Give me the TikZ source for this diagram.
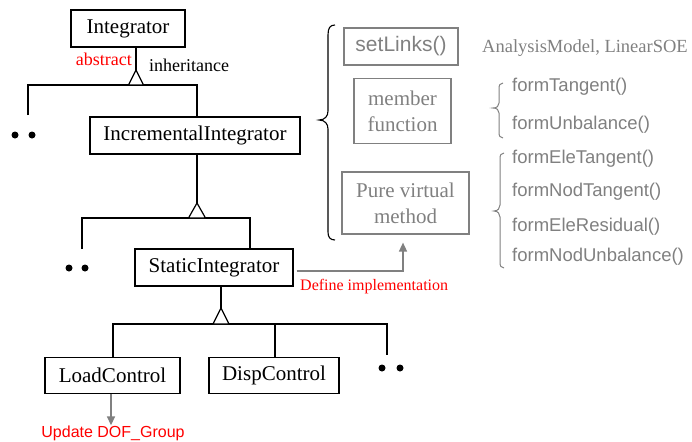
\documentclass[tikz,border=0pt]{standalone}
\usepackage{fontspec}
\setmainfont{Liberation Serif}
\setsansfont{Liberation Sans}
\usetikzlibrary{arrows.meta}
\definecolor{txtgray}{RGB}{128,128,128}
\definecolor{umlred}{RGB}{255,0,0}

\begin{document}
\begin{tikzpicture}[x=1pt,y=-1pt,
  classbox/.style={draw=black, line width=1.2pt, inner sep=0pt,
    font=\fontsize{21}{24}\selectfont},
  notebox/.style={draw=txtgray, line width=1.2pt, inner sep=0pt, text=txtgray,
    align=center, font=\fontsize{21}{24}\selectfont},
  link/.style={line width=1.2pt},
  gen/.style={line width=1.2pt, fill=white},
  grayarrow/.style={draw=txtgray, line width=1.5pt,
    -{Triangle[length=9pt,width=8pt]}},
  redlbl/.style={text=umlred, inner sep=0pt},
  graylbl/.style={text=txtgray, inner sep=0pt, anchor=west},
  dot/.style={circle, fill=black, inner sep=0pt, minimum size=7pt},
  bracegray/.style={draw=txtgray, line width=1pt},
]
\useasboundingbox (0,0) rectangle (692,441);

% class hierarchy
\node[classbox, minimum width=114pt, minimum height=37pt] (integ) at (128,28.5) {Integrator};
\node[classbox, minimum width=210pt, minimum height=37pt] (incr) at (195,135.5) {IncrementalIntegrator};
\node[classbox, minimum width=158pt, minimum height=37pt] (static) at (214,267.5) {StaticIntegrator};
\node[classbox, minimum width=135pt, minimum height=36pt] (load) at (112.5,375.5) {LoadControl};
\node[classbox, minimum width=130pt, minimum height=36pt] (disp) at (274,375.5) {DispControl};

% generalization: Integrator <- IncrementalIntegrator
\coordinate (t1) at (136,70);
\coordinate (j1) at (197,85);
\coordinate (b1L) at (28,115);
\draw[link] (integ.south -| t1) -- (t1);
\draw[link] (b1L) |- (j1) -- (j1 |- incr.north);
\draw[gen] (t1) -- ++(-7.5,15) -- ++(15,0) -- cycle;

% generalization: IncrementalIntegrator <- StaticIntegrator
\coordinate (t2) at (197,203);
\coordinate (j2) at (250,218);
\coordinate (b2L) at (82,249);
\draw[link] (incr.south -| t2) -- (t2);
\draw[link] (b2L) |- (j2) -- (j2 |- static.north);
\draw[gen] (t2) -- ++(-8.5,15) -- ++(17,0) -- cycle;

% generalization: StaticIntegrator <- LoadControl, DispControl
\coordinate (t3) at (221,308);
\coordinate (j3a) at (113,324);
\coordinate (j3b) at (275,324);
\coordinate (b3R) at (387,355);
\draw[link] (static.south -| t3) -- (t3);
\draw[link] (j3a |- load.north) -- (j3a) -| (b3R);
\draw[link] (j3b) -- (j3b |- disp.north);
\draw[gen] (t3) -- ++(-8,16) -- ++(16,0) -- cycle;

% further subclasses
\node[dot] (d1a) at (15,135) {};
\node[dot] (d1b) at (32,135) {};
\node[dot] (d2a) at (69,268) {};
\node[dot] (d2b) at (85,268) {};
\node[dot] (d3a) at (382,368) {};
\node[dot] (d3b) at (400,368) {};

% labels on the hierarchy
\node[redlbl, anchor=east, font=\fontsize{18}{20}\selectfont] (abs) at (132,59) {abstract};
\node[inner sep=0pt, anchor=west, font=\fontsize{18}{20}\selectfont] (inh) at (149,65) {inheritance};

% member summary
\node[notebox, font=\sffamily\fontsize{21}{24}\selectfont, minimum width=114pt, minimum height=37pt] (links) at (401,46.5) {setLinks()};
\node[notebox, minimum width=97pt, minimum height=65pt] (member) at (402.5,111) {member\\[2pt]function};
\node[notebox, minimum width=127pt, minimum height=62pt] (pure) at (405.5,203) {Pure virtual\\[2pt]method};

\node[graylbl, font=\fontsize{18.5}{20}\selectfont] (am) at (482,48) {AnalysisModel, LinearSOE};
\node[graylbl, font=\sffamily\fontsize{18.5}{20}\selectfont] (ft) at (512,87) {formTangent()};
\node[graylbl, font=\sffamily\fontsize{18.5}{20}\selectfont] (fu) at (512,125) {formUnbalance()};
\node[graylbl, font=\sffamily\fontsize{18.5}{20}\selectfont] (fet) at (512,159) {formEleTangent()};
\node[graylbl, font=\sffamily\fontsize{18.5}{20}\selectfont] (fnt) at (512,192) {formNodTangent()};
\node[graylbl, font=\sffamily\fontsize{18.5}{20}\selectfont] (fer) at (512,227) {formEleResidual()};
\node[graylbl, font=\sffamily\fontsize{18.5}{20}\selectfont] (fnu) at (512,257) {formNodUnbalance()};

% braces
\draw[line width=1.1pt] (335,25) .. controls (330,25) and (328,28) .. (328,35)
  -- (328,111) .. controls (328,116) and (325,120) .. (319,120)
  .. controls (325,120) and (328,124) .. (328,129)
  -- (328,232) .. controls (328,237) and (330,240) .. (335,240);
\draw[bracegray] (503,83) .. controls (500,83) and (499,85) .. (499,89)
  -- (499,103) .. controls (499,106) and (497,108) .. (493,108)
  .. controls (497,108) and (499,110) .. (499,113)
  -- (499,132) .. controls (499,136) and (500,138) .. (503,138);
\draw[bracegray] (504,153) .. controls (501,153) and (500,155) .. (500,159)
  -- (500,205) .. controls (500,208) and (498,211) .. (494,211)
  .. controls (498,211) and (500,214) .. (500,217)
  -- (500,262) .. controls (500,266) and (501,268) .. (504,268);

% implementation arrows
\draw[grayarrow] ([xshift=3pt,yshift=-3.5pt]static.east) -| ([xshift=-2.5pt,yshift=-8pt]pure.south);
\node[redlbl, anchor=west, font=\fontsize{16}{18}\selectfont] (defimp) at (300,287) {Define implementation};

\node[redlbl, font=\sffamily\fontsize{16}{18}\selectfont] (upd) at (113,433) {Update DOF\_Group};
\draw[grayarrow] ([xshift=-1.5pt]load.south) -- ([xshift=-1.5pt]load.south |- upd.north);
\end{tikzpicture}
\end{document}
